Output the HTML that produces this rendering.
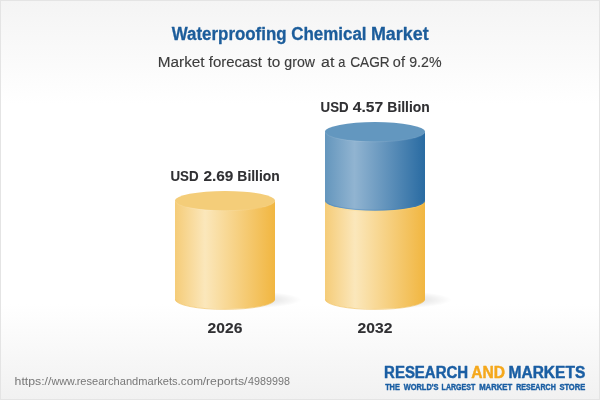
<!DOCTYPE html>
<html>
<head>
<meta charset="utf-8">
<title>Waterproofing Chemical Market</title>
<style>
html,body{margin:0;padding:0;background:#fff;}
body{width:600px;height:400px;overflow:hidden;}
svg{display:block;}
text{font-family:"Liberation Sans",sans-serif;}
</style>
</head>
<body>
<svg width="600" height="400" viewBox="0 0 600 400" xmlns="http://www.w3.org/2000/svg">
  <defs>
    <linearGradient id="bg" x1="0" y1="0" x2="0" y2="1">
      <stop offset="0" stop-color="#f4f4f4"/>
      <stop offset="0.26" stop-color="#ffffff"/>
      <stop offset="0.76" stop-color="#ffffff"/>
      <stop offset="1" stop-color="#f1f1f1"/>
    </linearGradient>
    <linearGradient id="gy" x1="0" y1="0" x2="1" y2="0">
      <stop offset="0" stop-color="#f5cc78"/>
      <stop offset="0.30" stop-color="#fbe7bb"/>
      <stop offset="1" stop-color="#f1b640"/>
    </linearGradient>
    <linearGradient id="gb" x1="0" y1="0" x2="1" y2="0">
      <stop offset="0" stop-color="#6496bd"/>
      <stop offset="0.295" stop-color="#91b4d1"/>
      <stop offset="1" stop-color="#296ba2"/>
    </linearGradient>
    <radialGradient id="sh" cx="0.5" cy="0.5" r="0.5">
      <stop offset="0" stop-color="#000" stop-opacity="0.16"/>
      <stop offset="0.6" stop-color="#000" stop-opacity="0.07"/>
      <stop offset="1" stop-color="#000" stop-opacity="0"/>
    </radialGradient>
  </defs>
  <rect x="0" y="0" width="600" height="400" fill="url(#bg)"/>
  <rect x="0.5" y="0.5" width="599" height="399" fill="none" stroke="#e4e4e4"/>

  <!-- cylinder 1 -->
  <ellipse cx="249.5" cy="299.8" rx="52" ry="8.5" fill="url(#sh)"/>
  <path d="M175 200.7 V299.3 A50 9.7 0 0 0 275 299.3 V200.7 Z" fill="url(#gy)"/>
  <path d="M175.5 299.7 A49.5 9.7 0 0 0 274.5 299.7" fill="none" stroke="#f0bc52" stroke-opacity="0.6" stroke-width="1"/>
  <ellipse cx="225" cy="200.7" rx="50" ry="9.7" fill="#f4cd79"/>
  <path d="M175.3 201 A49.7 9.7 0 0 0 274.7 201" fill="none" stroke="#ffffff" stroke-opacity="0.13" stroke-width="0.8"/>

  <!-- cylinder 2 -->
  <ellipse cx="399.5" cy="299.8" rx="52" ry="8.5" fill="url(#sh)"/>
  <path d="M325 201 V299.3 A50 9.7 0 0 0 425 299.3 V201 Z" fill="url(#gy)"/>
  <path d="M325.5 299.7 A49.5 9.7 0 0 0 424.5 299.7" fill="none" stroke="#f0bc52" stroke-opacity="0.6" stroke-width="1"/>
  <path d="M325 131.8 V201 A50 9.7 0 0 0 425 201 V131.8 Z" fill="url(#gb)"/>
  <path d="M325.5 200.4 A49.5 9.7 0 0 0 424.5 200.4" fill="none" stroke="#4282bb" stroke-opacity="0.4" stroke-width="1"/>
  <path d="M325.5 201.7 A49.5 9.7 0 0 0 424.5 201.7" fill="none" stroke="#ffd877" stroke-opacity="0.35" stroke-width="0.8"/>
  <ellipse cx="375" cy="131.8" rx="50" ry="9.7" fill="#6397bf"/>
  <path d="M325.3 132.1 A49.7 9.7 0 0 0 424.7 132.1" fill="none" stroke="#ffffff" stroke-opacity="0.13" stroke-width="0.8"/>

  <!-- footer -->

  <!-- text -->
  <text y="39.6" font-size="18" font-weight="bold" fill="#1c5d9b" stroke="#1c5d9b" stroke-width="0.3" stroke-linejoin="round"><tspan x="171.80" textLength="114.76" lengthAdjust="spacingAndGlyphs">Waterproofing</tspan> <tspan x="291.14" textLength="75.47" lengthAdjust="spacingAndGlyphs">Chemical</tspan> <tspan x="370.93" textLength="57.67" lengthAdjust="spacingAndGlyphs">Market</tspan></text>
  <text y="66.6" font-size="15.3" fill="#3d3d3d" stroke="#3d3d3d" stroke-width="0.15" stroke-linejoin="round"><tspan x="157.75" textLength="46.86" lengthAdjust="spacingAndGlyphs">Market</tspan> <tspan x="208.77" textLength="53.25" lengthAdjust="spacingAndGlyphs">forecast</tspan> <tspan x="267.42" textLength="12.79" lengthAdjust="spacingAndGlyphs">to</tspan> <tspan x="284.36" textLength="30.72" lengthAdjust="spacingAndGlyphs">grow</tspan> <tspan x="321.13" textLength="13.27" lengthAdjust="spacingAndGlyphs">at</tspan> <tspan x="338.21" textLength="7.10" lengthAdjust="spacingAndGlyphs">a</tspan> <tspan x="350.21" textLength="39.54" lengthAdjust="spacingAndGlyphs">CAGR</tspan> <tspan x="392.85" textLength="12.06" lengthAdjust="spacingAndGlyphs">of</tspan> <tspan x="409.25" textLength="32.28" lengthAdjust="spacingAndGlyphs">9.2%</tspan></text>
  <text y="180.8" font-size="15.4" font-weight="bold" fill="#303033" stroke="#303033" stroke-width="0.1" stroke-linejoin="round"><tspan x="170.40" textLength="28.17" lengthAdjust="spacingAndGlyphs">USD</tspan> <tspan x="203.42" textLength="30.02" lengthAdjust="spacingAndGlyphs">2.69</tspan> <tspan x="237.36" textLength="42.42" lengthAdjust="spacingAndGlyphs">Billion</tspan></text>
  <text y="112.2" font-size="15.4" font-weight="bold" fill="#303033" stroke="#303033" stroke-width="0.1" stroke-linejoin="round"><tspan x="320.59" textLength="28.06" lengthAdjust="spacingAndGlyphs">USD</tspan> <tspan x="352.71" textLength="30.40" lengthAdjust="spacingAndGlyphs">4.57</tspan> <tspan x="387.36" textLength="42.42" lengthAdjust="spacingAndGlyphs">Billion</tspan></text>
  <text y="332.7" font-size="15.4" font-weight="bold" fill="#303033" stroke="#303033" stroke-width="0.1" stroke-linejoin="round"><tspan x="207.55" textLength="34.80" lengthAdjust="spacingAndGlyphs">2026</tspan></text>
  <text y="332.7" font-size="15.4" font-weight="bold" fill="#303033" stroke="#303033" stroke-width="0.1" stroke-linejoin="round"><tspan x="357.55" textLength="34.86" lengthAdjust="spacingAndGlyphs">2032</tspan></text>
  <text y="384.5" font-size="10.5" fill="#777777"><tspan x="14.59" textLength="36.87" lengthAdjust="spacingAndGlyphs">https://</tspan><tspan x="51.42" textLength="25.72" lengthAdjust="spacingAndGlyphs">www.</tspan><tspan x="76.65" textLength="101.02" lengthAdjust="spacingAndGlyphs">researchandmarkets</tspan><tspan x="177.56" textLength="25.38" lengthAdjust="spacingAndGlyphs">.com</tspan><tspan x="202.66" textLength="44.85" lengthAdjust="spacingAndGlyphs">/reports/</tspan><tspan x="248.11" textLength="41.79" lengthAdjust="spacingAndGlyphs">4989998</tspan></text>
  <text y="377.6" font-size="16" font-weight="bold" fill="#1a5ea3" stroke="#1a5ea3" stroke-width="0.45" stroke-linejoin="round"><tspan x="384.10" textLength="83.97" lengthAdjust="spacingAndGlyphs">RESEARCH</tspan> <tspan x="471.36" textLength="33.77" lengthAdjust="spacingAndGlyphs" fill="#f5a81c" stroke="#f5a81c">AND</tspan> <tspan x="508.55" textLength="76.70" lengthAdjust="spacingAndGlyphs">MARKETS</tspan></text>
  <text y="389.5" font-size="8.2" font-weight="bold" fill="#1a5ea3" stroke="#1a5ea3" stroke-width="0.4" stroke-linejoin="round"><tspan x="385.14" textLength="14.69" lengthAdjust="spacingAndGlyphs">THE</tspan> <tspan x="403.70" textLength="34.81" lengthAdjust="spacingAndGlyphs">WORLD'S</tspan> <tspan x="441.60" textLength="33.65" lengthAdjust="spacingAndGlyphs">LARGEST</tspan> <tspan x="479.18" textLength="33.05" lengthAdjust="spacingAndGlyphs">MARKET</tspan> <tspan x="516.15" textLength="39.62" lengthAdjust="spacingAndGlyphs">RESEARCH</tspan> <tspan x="559.38" textLength="25.84" lengthAdjust="spacingAndGlyphs">STORE</tspan></text>
</svg>
</body>
</html>
